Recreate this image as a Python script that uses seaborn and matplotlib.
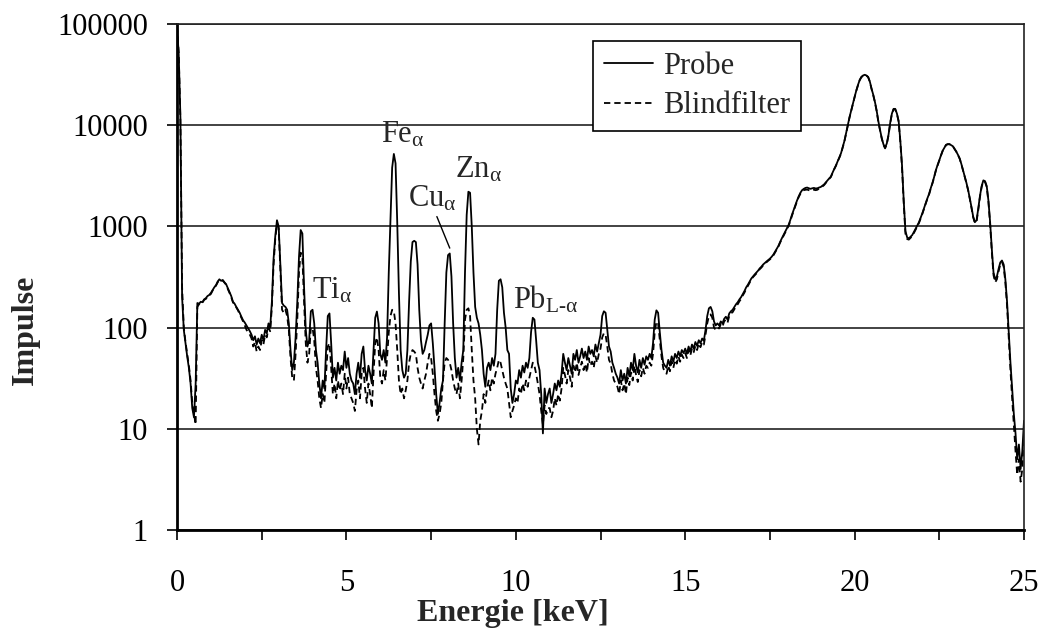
import numpy as np
import pandas as pd
import matplotlib
matplotlib.use("Agg")
import matplotlib.pyplot as plt
import seaborn as sns
from matplotlib.lines import Line2D
from matplotlib.ticker import NullLocator

# Spectrum sampled every 0.05 keV from 0 to 25 keV (one row = 1 keV)
probe_counts = [
    95000, 50000, 12000, 200, 95, 70, 52, 40, 28, 16, 13, 28, 175, 172, 180, 178, 190, 195, 205, 210,
    220, 235, 250, 262, 285, 300, 290, 295, 280, 268, 245, 225, 205, 180, 172, 160, 150, 140, 128, 118,
    112, 105, 98, 92, 85, 75, 82, 68, 78, 70, 85, 75, 95, 88, 110, 100, 180, 480, 800, 1150,
    1000, 420, 175, 165, 160, 150, 110, 60, 38, 45, 80, 180, 500, 920, 850, 250, 95, 65, 75, 145,
    150, 110, 60, 45, 28, 20, 30, 25, 60, 130, 138, 70, 32, 40, 30, 45, 35, 42, 38, 58,
    40, 50, 35, 30, 28, 22, 35, 45, 32, 55, 65, 38, 30, 42, 35, 28, 60, 125, 144, 110,
    55, 48, 60, 45, 80, 350, 1200, 3800, 5200, 4200, 1100, 220, 60, 38, 32, 35, 60, 180, 450, 700,
    720, 700, 420, 150, 75, 55, 60, 72, 85, 105, 110, 70, 40, 22, 14, 18, 25, 30, 110, 350,
    520, 540, 320, 110, 50, 32, 40, 30, 45, 60, 350, 1300, 2200, 2150, 1000, 350, 160, 125, 110, 85,
    60, 35, 26, 40, 45, 38, 50, 42, 55, 150, 290, 300, 250, 140, 100, 60, 55, 25, 18, 22,
    30, 28, 38, 32, 42, 36, 45, 40, 50, 90, 125, 120, 75, 45, 38, 22, 9, 25, 18, 22,
    25, 18, 22, 28, 24, 30, 26, 35, 55, 45, 38, 50, 42, 35, 55, 48, 60, 45, 52, 62,
    50, 58, 48, 65, 55, 60, 52, 68, 58, 70, 85, 130, 145, 140, 95, 65, 58, 45, 40, 35,
    32, 28, 38, 30, 35, 28, 40, 33, 45, 38, 55, 42, 36, 48, 40, 50, 43, 52, 48, 55,
    50, 70, 120, 148, 140, 90, 60, 45, 42, 40, 48, 42, 52, 46, 55, 50, 58, 52, 60, 56,
    62, 55, 65, 58, 68, 62, 72, 66, 75, 70, 78, 74, 95, 130, 155, 160, 145, 115, 105, 110,
    105, 115, 110, 122, 128, 120, 138, 145, 150, 160, 170, 178, 190, 200, 215, 230, 250, 265, 285, 305,
    320, 335, 350, 365, 385, 400, 420, 435, 450, 465, 480, 500, 525, 560, 600, 640, 700, 760, 820, 880,
    950, 1030, 1150, 1300, 1450, 1620, 1800, 1980, 2150, 2280, 2350, 2400, 2420, 2380, 2350, 2380, 2400, 2370, 2380, 2420,
    2450, 2520, 2600, 2720, 2850, 2980, 3100, 3400, 3700, 4000, 4400, 4800, 5300, 6100, 7000, 8400, 10000, 12000, 14000, 16500,
    19000, 22000, 25000, 28000, 30000, 31000, 31500, 31000, 30000, 27000, 23000, 20000, 17000, 14000, 11000, 9000, 7500, 6500, 6000, 6600,
    8000, 10500, 13000, 14500, 14500, 13000, 11000, 7000, 4000, 1800, 900, 780, 760, 790, 820, 880, 950, 1020, 1100, 1220,
    1350, 1520, 1700, 1900, 2100, 2400, 2700, 3100, 3600, 4050, 4500, 5050, 5600, 6000, 6400, 6500, 6500, 6350, 6200, 5850,
    5500, 5100, 4700, 4150, 3600, 3150, 2700, 2300, 1900, 1550, 1250, 1100, 1150, 1500, 2000, 2500, 2850, 2800, 2500, 1800,
    1100, 600, 350, 300, 320, 380, 440, 460, 420, 300, 180, 90, 45, 25, 14, 9, 5, 7, 4, 6,
    12,
]

blind_counts = [
    95000, 52000, 11000, 250, 100, 72, 55, 42, 30, 18, 14, 11, 160, 170, 178, 176, 188, 192, 200, 208,
    215, 232, 248, 260, 280, 295, 288, 292, 278, 265, 240, 220, 200, 178, 168, 158, 148, 135, 125, 115,
    105, 95, 90, 85, 78, 65, 72, 58, 65, 60, 75, 68, 85, 80, 100, 92, 160, 420, 750, 1050,
    950, 380, 150, 140, 150, 130, 95, 50, 32, 30, 55, 120, 350, 550, 500, 180, 70, 45, 55, 100,
    100, 75, 40, 30, 20, 16, 22, 18, 35, 65, 70, 40, 22, 28, 20, 30, 24, 28, 22, 35,
    25, 32, 22, 20, 18, 15, 24, 30, 20, 35, 40, 25, 18, 28, 22, 16, 35, 70, 80, 60,
    32, 28, 38, 30, 50, 90, 130, 150, 145, 110, 60, 30, 22, 25, 20, 24, 30, 45, 55, 60,
    58, 55, 40, 32, 28, 25, 30, 35, 45, 55, 50, 35, 22, 15, 12, 14, 18, 30, 45, 50,
    48, 45, 38, 30, 25, 22, 28, 20, 30, 50, 120, 150, 155, 130, 60, 30, 20, 10, 7, 12,
    15, 22, 18, 25, 30, 24, 32, 28, 35, 40, 48, 45, 38, 32, 28, 25, 18, 13, 15, 17,
    20, 18, 25, 22, 28, 24, 30, 26, 32, 38, 45, 42, 35, 28, 22, 15, 11, 17, 14, 16,
    16, 13, 15, 20, 17, 22, 19, 25, 40, 34, 28, 38, 32, 26, 42, 36, 45, 34, 40, 46,
    38, 44, 36, 50, 42, 46, 40, 52, 45, 55, 62, 80, 88, 85, 65, 48, 44, 35, 30, 28,
    26, 22, 30, 24, 28, 22, 32, 27, 36, 30, 42, 34, 29, 38, 33, 40, 35, 42, 40, 45,
    42, 55, 90, 115, 110, 75, 52, 40, 36, 35, 42, 37, 46, 40, 48, 44, 52, 46, 54, 50,
    56, 50, 60, 53, 62, 57, 66, 60, 70, 64, 72, 68, 85, 110, 130, 135, 125, 100, 95, 100,
    98, 108, 102, 115, 120, 112, 130, 138, 142, 152, 162, 170, 182, 192, 208, 222, 242, 258, 278, 298,
    315, 328, 342, 358, 378, 392, 412, 428, 442, 458, 472, 490, 515, 550, 590, 630, 690, 745, 805, 865,
    935, 1010, 1120, 1270, 1420, 1590, 1770, 1950, 2100, 2220, 2280, 2300, 2310, 2280, 2250, 2270, 2300, 2280, 2300, 2360,
    2400, 2480, 2560, 2690, 2820, 2950, 3080, 3380, 3680, 3980, 4380, 4780, 5250, 6050, 6950, 8300, 9900, 11900, 13900, 16400,
    18900, 21900, 24800, 27800, 29800, 30800, 31300, 30800, 29800, 26800, 22800, 19800, 16800, 13800, 10800, 8900, 7400, 6400, 5900, 6500,
    7900, 10400, 12900, 14300, 14300, 12900, 10800, 6800, 3800, 1700, 850, 750, 740, 770, 800, 860, 930, 1000, 1080, 1200,
    1330, 1500, 1680, 1880, 2080, 2380, 2680, 3080, 3580, 4020, 4480, 5020, 5580, 5980, 6380, 6480, 6480, 6330, 6180, 5830,
    5480, 5080, 4680, 4130, 3580, 3120, 2680, 2280, 1880, 1530, 1230, 1080, 1120, 1450, 1950, 2450, 2800, 2750, 2450, 1750,
    1050, 560, 330, 280, 300, 360, 420, 445, 400, 280, 165, 80, 38, 20, 11, 6, 3.5, 5, 3, 4,
    8,
]

assert len(probe_counts) == 501 and len(blind_counts) == 501
energy = np.round(np.arange(len(probe_counts)) * 0.05, 2)

series_names = ["Probe", "Blindfilter"]
y_ticks = [1, 10, 100, 1000, 10000, 100000]
y_tick_labels = ["1", "10", "100", "1000", "10000", "100000"]
x_ticks = [0, 5, 10, 15, 20, 25]
x_tick_labels = ["0", "5", "10", "15", "20", "25"]
x_minor_ticks = [2.5, 7.5, 12.5, 17.5, 22.5]

df = pd.DataFrame({
    "Energie": np.concatenate([energy, energy]),
    "Impulse": probe_counts + blind_counts,
    "Serie": [series_names[0]] * len(energy) + [series_names[1]] * len(energy),
})

sns.set_style("white")
plt.rcParams["font.family"] = ["Liberation Serif", "DejaVu Serif"]
plt.rcParams["mathtext.fontset"] = "custom"
plt.rcParams["mathtext.rm"] = "Liberation Serif"
plt.rcParams["mathtext.it"] = "Liberation Serif:italic"
plt.rcParams["mathtext.bf"] = "Liberation Serif:bold"

fig = plt.figure(figsize=(10.45, 6.35), dpi=100)
ax = fig.add_axes([0.1694, 0.1654, 0.8105, 0.7968])

dash_pat = (3.5, 2.2)
sns.lineplot(data=df, x="Energie", y="Impulse", hue="Serie", style="Serie",
             palette={"Probe": "black", "Blindfilter": "black"},
             dashes={"Probe": "", "Blindfilter": dash_pat},
             lw=1.3, ax=ax, legend=False, estimator=None, sort=False)

ax.set_yscale("log")
ax.set_ylim(1, 100000)
ax.set_xlim(0, 25)
ax.set_yticks(y_ticks)
ax.set_yticklabels(y_tick_labels)
ax.yaxis.set_minor_locator(NullLocator())
ax.set_xticks(x_ticks)
ax.set_xticklabels(x_tick_labels)
ax.set_xticks(x_minor_ticks, minor=True)
ax.set_xlabel("")
ax.set_ylabel("")

ax.tick_params(axis="both", which="both", direction="out", length=7, width=1.2,
               color="black", bottom=True, left=True, labelsize=22, labelcolor="black")
ax.tick_params(axis="x", which="both", pad=21)
ax.tick_params(axis="y", pad=14)

ax.grid(axis="y", which="major", color="#222222", lw=1.2)
ax.grid(axis="x", visible=False)
for side in ["left", "bottom"]:
    ax.spines[side].set_color("black")
    ax.spines[side].set_linewidth(2.0)
for side in ["right", "top"]:
    ax.spines[side].set_visible(True)
    ax.spines[side].set_color("#222222")
    ax.spines[side].set_linewidth(1.2)

fs = 22
ax.text(3.99, 196, "Ti$_{\\mathrm{α}}$", fontsize=fs, ha="left", va="baseline")
ax.text(6.02, 6670, "Fe$_{\\mathrm{α}}$", fontsize=fs, ha="left", va="baseline")
ax.text(6.83, 1566, "Cu$_{\\mathrm{α}}$", fontsize=fs, ha="left", va="baseline")
ax.text(8.21, 3055, "Zn$_{\\mathrm{α}}$", fontsize=fs, ha="left", va="baseline")
ax.text(9.92, 156, "Pb$_{\\mathrm{L\\text{-}α}}$", fontsize=fs, ha="left", va="baseline")
ax.annotate("", xy=(8.05, 610), xytext=(7.67, 1250),
            arrowprops=dict(arrowstyle="-", color="black", lw=1.0, shrinkA=0, shrinkB=0))

handles = [Line2D([], [], color="black", lw=1.3),
           Line2D([], [], color="black", lw=1.3, dashes=dash_pat)]
leg = ax.legend(handles, series_names, loc="upper left",
                bbox_to_anchor=(593 / 1045, 1 - 41 / 635), bbox_transform=fig.transFigure,
                frameon=True, fancybox=False, edgecolor="black", framealpha=1,
                facecolor="white", fontsize=fs, handlelength=1.6, handletextpad=0.35,
                labelspacing=0.35, borderpad=0.35, borderaxespad=0)
leg.get_frame().set_linewidth(1.2)
leg.set_zorder(10)

fig.text(25 / 1045, 1 - 330 / 635, "Impulse", rotation=90, ha="center", va="center",
         fontsize=23, fontweight="bold")
fig.text(513 / 1045, 1 - 613 / 635, "Energie [keV]", ha="center", va="center",
         fontsize=23, fontweight="bold")

fig.savefig("out.png", dpi=100)
